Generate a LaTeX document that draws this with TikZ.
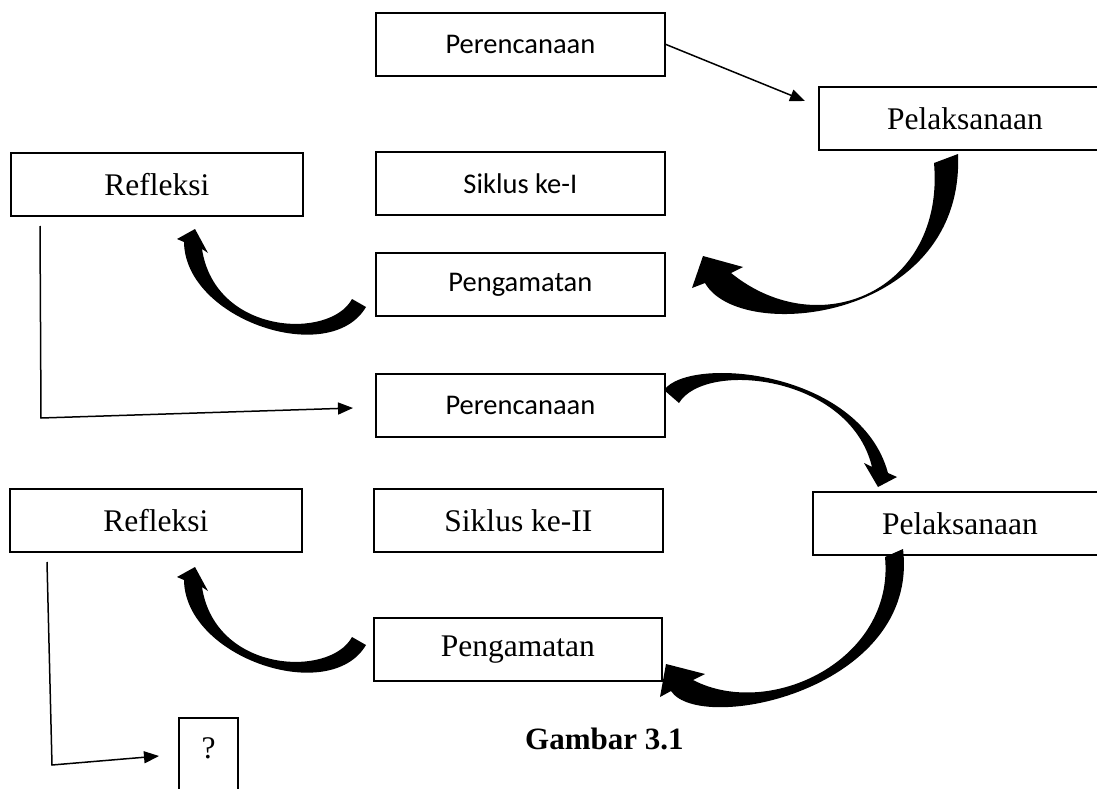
\documentclass[tikz,border=0pt]{standalone}
\usepackage{fontspec}
\setmainfont{Liberation Serif}
\newfontfamily\calfont{Carlito}
\usetikzlibrary{arrows.meta}
\begin{document}
\begin{tikzpicture}[x=1pt,y=-1pt,
  box/.style={draw,line width=1.8pt,inner sep=0pt,anchor=north west,minimum height=63pt},
  serift/.style={font=\fontsize{31.5}{36}\selectfont},
  sanst/.style={font=\calfont\fontsize{28.5}{34}\selectfont},
  thinarrow/.style={line width=1.5pt,-{Triangle[length=15pt,width=12pt]}},
  bigarrow/.style={fill=black}]
\useasboundingbox (0,0) rectangle (1097,789);
% boxes
\node[box,sanst,minimum width=289pt] (p1) at (375,12) {Perencanaan};
\node[box,serift,minimum width=292pt] (l1) at (818,86) {Pelaksanaan};
\node[box,serift,minimum width=292pt] (r1) at (10,152) {Refleksi};
\node[box,sanst,minimum width=289pt] (s1) at (375,151) {Siklus ke-I};
\node[box,sanst,minimum width=289pt] (g1) at (375,252) {Pengamatan};
\node[box,sanst,minimum width=289pt] (p2) at (375,373) {Perencanaan};
\node[box,serift,minimum width=292pt] (r2) at (9,488) {Refleksi};
\node[box,serift,minimum width=289pt] (s2) at (373,488) {Siklus ke-II};
\node[box,serift,minimum width=294pt] (l2) at (812,491) {Pelaksanaan};
\node[box,serift,minimum width=288pt] (g2) at (373,617) {Pengamatan};
\node[draw,line width=1.8pt,inner sep=0pt,anchor=north,minimum width=59pt,
      text height=41pt,text depth=60pt,serift] (q) at (208.5,717) {?};
\node[anchor=base west,font=\bfseries\fontsize{31}{36}\selectfont,inner sep=0pt] (cap) at (525,749) {Gambar 3.1};
% thin connectors
\coordinate (t1) at (805,101);
\draw[thinarrow] (p1.east) -- (t1);
\coordinate (r1a) at (40,226);
\coordinate (r1b) at (41,418);
\coordinate (r1c) at (353,408);
\draw[thinarrow] (r1a) -- (r1b) -- (r1c);
\coordinate (r2a) at (47,562);
\coordinate (r2b) at (52,765);
\coordinate (r2c) at (159,756);
\draw[thinarrow] (r2a) -- (r2b) -- (r2c);
% thick curved arrows
% Pelaksanaan 1 -> Pengamatan 1
\fill[bigarrow] (958,154) -- (934,163) .. controls (945,290) and (820,345) .. (731,273)
  -- (743,267) -- (703,256) -- (692,288) -- (705,283)
  .. controls (740,345) and (965,320) .. (958,154) -- cycle;
% Pengamatan 1 -> Refleksi 1
\fill[bigarrow] (366,307) -- (352,299) .. controls (330,340) and (215,335) .. (202,249)
  -- (208,253) -- (195,229) -- (177,239) -- (184,242)
  .. controls (185,320) and (330,368) .. (366,307) -- cycle;
% Perencanaan 2 -> Pelaksanaan 2
\fill[bigarrow] (664,390) .. controls (690,355) and (860,370) .. (888,473)
  -- (897,477) -- (878,487) -- (864,463) -- (872,467)
  .. controls (850,375) and (705,360) .. (679,403) -- cycle;
% Pelaksanaan 2 -> Pengamatan 2
\fill[bigarrow] (903,549) -- (885,557) .. controls (895,660) and (770,720) .. (693,680)
  -- (705,674) -- (666,664) -- (660,697) -- (671,691)
  .. controls (700,735) and (920,690) .. (903,549) -- cycle;
% Pengamatan 2 -> Refleksi 2
\begin{scope}[shift={(0,338)}]
\fill[bigarrow] (366,307) -- (352,299) .. controls (330,340) and (215,335) .. (202,249)
  -- (208,253) -- (195,229) -- (177,239) -- (184,242)
  .. controls (185,320) and (330,368) .. (366,307) -- cycle;
\end{scope}
\end{tikzpicture}
\end{document}
